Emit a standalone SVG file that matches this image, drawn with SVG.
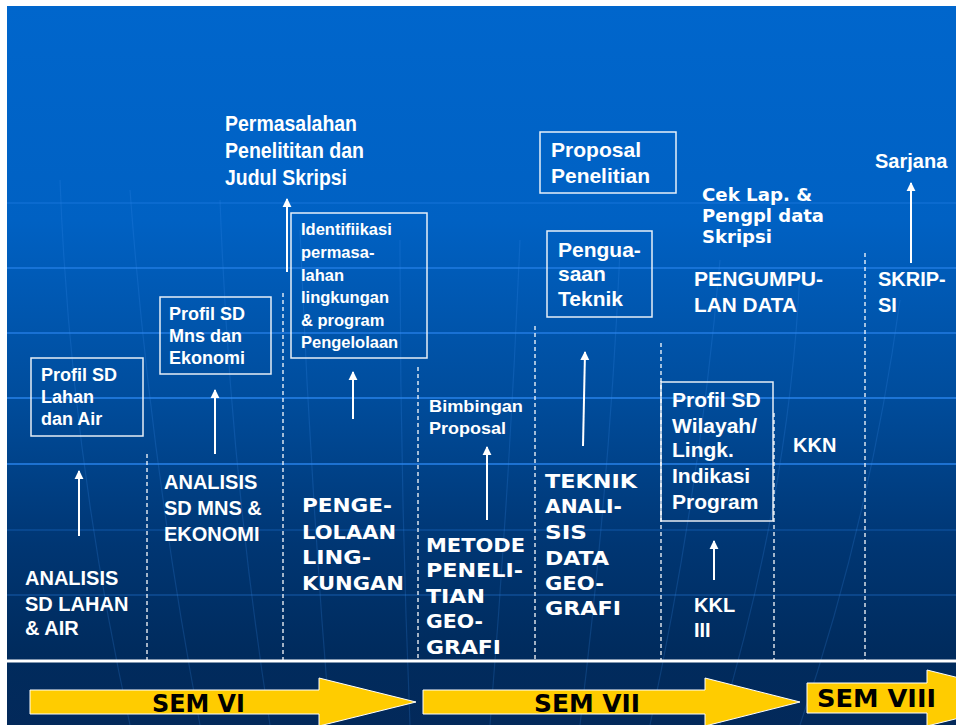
<svg xmlns="http://www.w3.org/2000/svg" width="956" height="725" viewBox="0 0 956 725">
<defs>
<linearGradient id="bg" x1="0" y1="6" x2="0" y2="725" gradientUnits="userSpaceOnUse">
<stop offset="0" stop-color="#0066CC"/>
<stop offset="0.3" stop-color="#0061C3"/>
<stop offset="0.55" stop-color="#004C9B"/>
<stop offset="0.75" stop-color="#003673"/>
<stop offset="0.9" stop-color="#002B5D"/>
<stop offset="1" stop-color="#03295A"/>
</linearGradient>
<marker id="ah" viewBox="0 0 10 10" refX="9" refY="5" markerWidth="9" markerHeight="10" markerUnits="userSpaceOnUse" orient="auto">
<path d="M0,0 L10,5 L0,10 z" fill="#FFFFFF"/>
</marker>
<style>
.a{font-family:"Liberation Sans",Arial,sans-serif;font-weight:bold;fill:#FFFFFF}
.v{font-family:"DejaVu Sans",Verdana,sans-serif;font-weight:bold;fill:#FFFFFF}
.s{font-family:"DejaVu Sans",Verdana,sans-serif;font-weight:bold;fill:#000000;font-size:24px}
.box{fill:none;stroke:#FFFFFF;stroke-width:1.5;opacity:0.9}
.dash{stroke:#FFFFFF;stroke-width:1.5;stroke-dasharray:4 3;opacity:0.85;fill:none}
.up{stroke:#FFFFFF;stroke-width:2;fill:none;marker-end:url(#ah)}
.grid{stroke:#2A86F0;stroke-width:2;fill:none}
.curve{stroke:#3A8FEF;stroke-width:1.2;fill:none;opacity:0.2}
.sem{fill:#FFCC00;stroke:#FFFFFF;stroke-width:1}
</style>
</defs>
<rect x="0" y="0" width="956" height="725" fill="#FFFFFF"/>
<rect x="7" y="6" width="949" height="719" fill="url(#bg)"/>
<g id="background-lines">
<line class="grid" x1="7" y1="203" x2="956" y2="203" opacity="0.25"/>
<line class="grid" x1="7" y1="268" x2="956" y2="268" opacity="0.55"/>
<line class="grid" x1="7" y1="333" x2="956" y2="333" opacity="0.6"/>
<line class="grid" x1="7" y1="398" x2="956" y2="398" opacity="0.7"/>
<line class="grid" x1="7" y1="464" x2="956" y2="464" opacity="0.7"/>
<line class="grid" x1="7" y1="530" x2="956" y2="530" opacity="0.2"/>
<line class="grid" x1="7" y1="595" x2="956" y2="595" opacity="0.25"/>
<path class="curve" d="M60,180 Q70,450 130,725"/>
<path class="curve" d="M130,190 Q150,460 200,725"/>
<path class="curve" d="M220,200 Q230,470 270,725"/>
<path class="curve" d="M300,230 Q310,480 330,725"/>
<path class="curve" d="M400,240 Q400,480 410,725"/>
<path class="curve" d="M520,240 Q510,480 490,725"/>
<path class="curve" d="M620,250 Q610,480 580,725"/>
<path class="curve" d="M720,260 Q700,490 650,725"/>
<path class="curve" d="M800,270 Q790,490 720,725"/>
<path class="curve" d="M900,300 Q870,520 800,725"/>
<line x1="7" y1="661" x2="956" y2="661" stroke="#FFFFFF" stroke-width="3"/>
</g>
<g id="connectors">
<line class="dash" x1="147" y1="454" x2="147" y2="660"/>
<line class="dash" x1="283" y1="293" x2="283" y2="660"/>
<line class="dash" x1="418" y1="367" x2="418" y2="660"/>
<line class="dash" x1="535" y1="326" x2="535" y2="660"/>
<line class="dash" x1="661" y1="343" x2="661" y2="660"/>
<line class="dash" x1="774" y1="413" x2="774" y2="660"/>
<line class="dash" x1="865" y1="253" x2="865" y2="660"/>
<line class="up" x1="79" y1="536" x2="79" y2="471"/>
<line class="up" x1="215" y1="454" x2="215" y2="390"/>
<line class="up" x1="287" y1="272" x2="287" y2="199"/>
<line class="up" x1="353" y1="419" x2="353" y2="372"/>
<line class="up" x1="487" y1="520" x2="487" y2="447"/>
<line class="up" x1="583" y1="446" x2="585" y2="352"/>
<line class="up" x1="714" y1="580" x2="714" y2="541"/>
<line class="up" x1="911" y1="263" x2="911" y2="183"/>
</g>
<g id="box-lahan">
<rect class="box" x="31" y="358" width="112" height="78"/>
<text class="a" font-size="18"><tspan x="41" y="381">Profil SD</tspan><tspan x="41" y="403">Lahan</tspan><tspan x="41" y="425">dan Air</tspan></text>
</g>
<g id="box-mns">
<rect class="box" x="160" y="297" width="111" height="77"/>
<text class="a" font-size="18"><tspan x="169" y="320">Profil SD</tspan><tspan x="169" y="342">Mns dan</tspan><tspan x="169" y="364">Ekonomi</tspan></text>
</g>
<g id="analisis-lahan">
<text class="a" font-size="20"><tspan x="25" y="585">ANALISIS</tspan><tspan x="25" y="611">SD LAHAN</tspan><tspan x="25" y="635">&amp; AIR</tspan></text>
</g>
<g id="analisis-mns">
<text class="a" font-size="20"><tspan x="164" y="489">ANALISIS</tspan><tspan x="164" y="515">SD MNS &amp;</tspan><tspan x="164" y="541">EKONOMI</tspan></text>
</g>
<g id="permasalahan">
<text class="a" font-size="22"><tspan x="225" y="131" textLength="132" lengthAdjust="spacingAndGlyphs">Permasalahan</tspan></text>
<text class="a" font-size="22"><tspan x="225" y="158" textLength="139" lengthAdjust="spacingAndGlyphs">Penelititan dan</tspan></text>
<text class="a" font-size="22"><tspan x="225" y="185" textLength="122" lengthAdjust="spacingAndGlyphs">Judul Skripsi</tspan></text>
</g>
<g id="box-identifikasi">
<rect class="box" x="291" y="213" width="136" height="145"/>
<text class="a" font-size="16.5"><tspan x="301" y="235">Identifiikasi</tspan><tspan x="301" y="258">permasa-</tspan><tspan x="301" y="281">lahan</tspan><tspan x="301" y="303">lingkungan</tspan><tspan x="301" y="326">&amp; program</tspan><tspan x="301" y="348">Pengelolaan</tspan></text>
</g>
<g id="pengelolaan">
<text class="v" font-size="20" x="302" y="512" textLength="90" lengthAdjust="spacingAndGlyphs">PENGE-</text>
<text class="v" font-size="20" x="302" y="539" textLength="94" lengthAdjust="spacingAndGlyphs">LOLAAN</text>
<text class="v" font-size="20" x="302" y="564" textLength="69" lengthAdjust="spacingAndGlyphs">LING-</text>
<text class="v" font-size="20" x="302" y="590" textLength="102" lengthAdjust="spacingAndGlyphs">KUNGAN</text>
</g>
<g id="bimbingan">
<text class="a" font-size="17" x="429" y="412" textLength="94" lengthAdjust="spacingAndGlyphs">Bimbingan</text>
<text class="a" font-size="17" x="429" y="434" textLength="77" lengthAdjust="spacingAndGlyphs">Proposal</text>
</g>
<g id="metode">
<text class="v" font-size="20" x="426" y="552" textLength="99" lengthAdjust="spacingAndGlyphs">METODE</text>
<text class="v" font-size="20" x="426" y="577" textLength="97" lengthAdjust="spacingAndGlyphs">PENELI-</text>
<text class="v" font-size="20" x="426" y="603" textLength="59" lengthAdjust="spacingAndGlyphs">TIAN</text>
<text class="v" font-size="20" x="426" y="628" textLength="57" lengthAdjust="spacingAndGlyphs">GEO-</text>
<text class="v" font-size="20" x="426" y="654" textLength="75" lengthAdjust="spacingAndGlyphs">GRAFI</text>
</g>
<g id="box-proposal">
<rect class="box" x="540" y="132" width="136" height="61"/>
<text class="a" font-size="21" x="551" y="157" textLength="90" lengthAdjust="spacingAndGlyphs">Proposal</text>
<text class="a" font-size="21" x="551" y="183" textLength="99" lengthAdjust="spacingAndGlyphs">Penelitian</text>
</g>
<g id="box-penguasaan">
<rect class="box" x="547" y="231" width="105" height="86"/>
<text class="a" font-size="21"><tspan x="558" y="257">Pengua-</tspan><tspan x="558" y="281">saan</tspan><tspan x="558" y="306">Teknik</tspan></text>
</g>
<g id="teknik">
<text class="v" font-size="20" x="545" y="488" textLength="92" lengthAdjust="spacingAndGlyphs">TEKNIK</text>
<text class="v" font-size="20" x="545" y="513" textLength="77" lengthAdjust="spacingAndGlyphs">ANALI-</text>
<text class="v" font-size="20" x="545" y="539" textLength="42" lengthAdjust="spacingAndGlyphs">SIS</text>
<text class="v" font-size="20" x="545" y="565" textLength="64" lengthAdjust="spacingAndGlyphs">DATA</text>
<text class="v" font-size="20" x="545" y="590" textLength="59" lengthAdjust="spacingAndGlyphs">GEO-</text>
<text class="v" font-size="20" x="545" y="615" textLength="76" lengthAdjust="spacingAndGlyphs">GRAFI</text>
</g>
<g id="cek-lap">
<text class="v" font-size="17" x="702" y="201" textLength="110" lengthAdjust="spacingAndGlyphs">Cek Lap. &amp;</text>
<text class="v" font-size="17" x="702" y="222" textLength="122" lengthAdjust="spacingAndGlyphs">Pengpl data</text>
<text class="v" font-size="17" x="702" y="243" textLength="70" lengthAdjust="spacingAndGlyphs">Skripsi</text>
</g>
<g id="pengumpulan">
<text class="a" font-size="20" x="694" y="286" textLength="129" lengthAdjust="spacingAndGlyphs">PENGUMPU-</text>
<text class="a" font-size="20" x="694" y="312" textLength="103" lengthAdjust="spacingAndGlyphs">LAN DATA</text>
</g>
<g id="box-wilayah">
<rect class="box" x="661" y="382" width="112" height="139"/>
<text class="a" font-size="21"><tspan x="672" y="407">Profil SD</tspan><tspan x="672" y="433">Wilayah/</tspan><tspan x="672" y="457">Lingk.</tspan><tspan x="672" y="483">Indikasi</tspan><tspan x="672" y="509">Program</tspan></text>
</g>
<g id="kkl">
<text class="a" font-size="20"><tspan x="694" y="612">KKL</tspan><tspan x="694" y="637">III</tspan></text>
</g>
<g id="kkn">
<text class="a" font-size="20" x="793" y="452">KKN</text>
</g>
<g id="skripsi">
<text class="a" font-size="20"><tspan x="878" y="286">SKRIP-</tspan><tspan x="878" y="312">SI</tspan></text>
</g>
<g id="sarjana">
<text class="a" font-size="20" x="875" y="168">Sarjana</text>
</g>
<g id="sem-vi">
<path class="sem" d="M30,690 L319,690 L319,678 L416,702 L319,726 L319,714 L30,714 Z"/>
<text class="s" x="152" y="712" textLength="93" lengthAdjust="spacingAndGlyphs">SEM VI</text>
</g>
<g id="sem-vii">
<path class="sem" d="M423,690 L705,690 L705,678 L800,702 L705,726 L705,714 L423,714 Z"/>
<text class="s" x="534" y="712" textLength="106" lengthAdjust="spacingAndGlyphs">SEM VII</text>
</g>
<g id="sem-viii">
<path class="sem" d="M807,683 L927,683 L927,670 L1040,698 L927,726 L927,713 L807,713 Z"/>
<text class="s" x="817" y="707" textLength="119" lengthAdjust="spacingAndGlyphs">SEM VIII</text>
</g>
</svg>
